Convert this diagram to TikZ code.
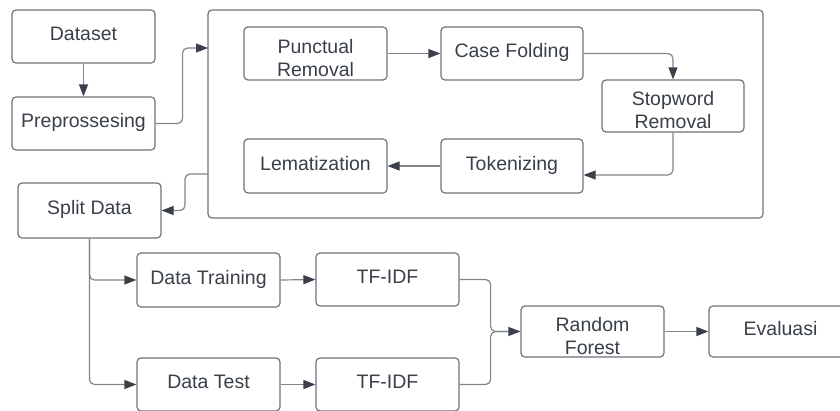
\documentclass[tikz,border=0pt]{standalone}
\usepackage{fontspec}
\setmainfont{Liberation Sans}
\usetikzlibrary{arrows.meta}
\definecolor{boxc}{HTML}{6E737A}
\definecolor{linec}{HTML}{80858B}
\definecolor{txtc}{HTML}{3A4049}
\definecolor{tipc}{HTML}{3A4049}
\begin{document}
\begin{tikzpicture}[x=1pt,y=-1pt,
  box/.style={draw=boxc, line width=1.2pt, rounded corners=4pt, fill=white,
    minimum width=143pt, minimum height=53pt, inner sep=0pt, text=txtc,
    text height=14pt, text depth=6pt,
    font=\fontsize{19.5}{23}\selectfont},
  txt/.style={inner sep=0pt, text=txtc, align=center,
    font=\fontsize{19.5}{23}\selectfont},
  wrap/.style={draw=boxc, line width=1.2pt, rounded corners=4pt,
    minimum width=555pt, minimum height=208pt, inner sep=0pt},
  conn/.style={draw=linec, line width=1.2pt, rounded corners=5pt,
    -{Triangle[length=12pt,width=9pt,color=tipc,fill=tipc]}},
  plain/.style={draw=linec, line width=1.2pt, rounded corners=5pt}]
\useasboundingbox (0,0) rectangle (840,410);
\clip (0,0) rectangle (840,410);
\node[wrap] (cont) at (485.5,114) {};
\coordinate (cin) at (208,48);
\coordinate (cout) at (208,174);
\node[box] (ds) at (83.5,36.5) {Dataset};
\node[box] (pre) at (83.5,123.5) {Preprossesing};
\node[box] (pun) at (315.5,53.5) {};
\node[txt] (pun-t) at ([yshift=-5pt]pun.center) {Punctual\\Removal};
\node[box, minimum width=142pt] (cf) at (512,53.5) {Case Folding};
\node[box, minimum width=142pt, minimum height=52pt] (sw) at (673,106) {};
\node[txt] (sw-t) at ([yshift=-4pt]sw.center) {Stopword\\Removal};
\node[box, minimum width=142pt, minimum height=54pt] (tok) at (512,166) {Tokenizing};
\node[box, minimum height=54pt] (lem) at (315.5,166) {Lematization};
\node[box, minimum height=55pt] (split) at (89.5,210.5) {Split Data};
\node[box, minimum height=54pt] (dtr) at (208.5,280) {Data Training};
\node[box] (tf1) at (387.5,279.5) {TF-IDF};
\node[box] (dte) at (208.5,384.5) {Data Test};
\node[box] (tf2) at (387.5,384.5) {TF-IDF};
\node[box, minimum height=51pt] (rf) at (592.5,331.5) {};
\node[txt] (rf-t) at ([yshift=-4.5pt]rf.center) {Random\\Forest};
\node[box, minimum height=51pt] (ev) at (780.5,331.5) {Evaluasi};
\draw[conn] (ds.south) -- (pre.north);
\draw[conn] (pre.east) -- ++(27,0) |- (cin);
\draw[conn] (pun.east) -- (cf.west);
\draw[conn] (cf.east) -| (sw.north);
\draw[conn] (sw.south) |- ([yshift=-9pt]tok.east);
\draw[conn] (tok.west) -- (lem.east);
\draw[conn] (cout) -- ++(-23,0) |- (split.east);
\draw[conn] (split.south) |- (dtr.west);
\draw[conn] (split.south) |- (dte.west);
\draw[conn] (dtr.east) -- (tf1.west);
\draw[conn] (dte.east) -- (tf2.west);
\draw[plain] (tf1.east) -- ++(31,0) |- (rf.west);
\draw[conn] (tf2.east) -- ++(31,0) |- (rf.west);
\draw[conn] (rf.east) -- (ev.west);
\end{tikzpicture}
\end{document}
